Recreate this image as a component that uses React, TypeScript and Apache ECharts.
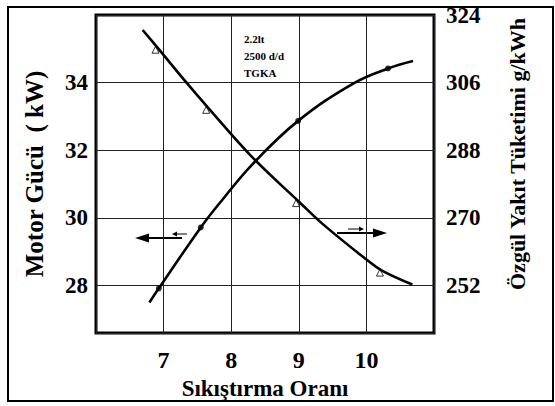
import React, { useEffect, useRef } from "react";
import * as echarts from "echarts";

// Tick labels
const xTickLabels = [7, 8, 9, 10];
const powerTickLabels = [28, 30, 32, 34];
const bsfcTickLabels = [252, 270, 288, 306, 324];

// Motor power (kW) curve, left axis
const powerCurveX = [6.79, 6.93, 7.55, 7.87, 8.31, 8.99, 9.81, 10.32, 10.69];
const powerCurveY = [27.5, 27.92, 29.72, 30.54, 31.58, 32.87, 33.98, 34.42, 34.64];
const powerMarkX = [6.93, 7.55, 8.99, 10.32];
const powerMarkY = [27.92, 29.72, 32.87, 34.42];

// Specific fuel consumption (g/kWh) curve, right axis
const bsfcCurveX = [6.69, 6.91, 7.32, 7.66, 8.31, 9.01, 9.36, 10.01, 10.23, 10.68];
const bsfcCurveY = [320.0, 315.3, 306.4, 299.3, 286.2, 274.2, 268.3, 258.8, 256.0, 252.3];
const bsfcMarkX = [6.91, 7.66, 8.99, 10.23];
const bsfcMarkY = [315.3, 299.3, 274.5, 256.0];

const noteLines = ["2.2lt", "2500 d/d", "TGKA"];

const FONT = "'Liberation Serif', 'Times New Roman', serif";

export default function App() {
  const ref = useRef<HTMLDivElement>(null);
  useEffect(() => {
    if (!ref.current) return;
    const chart = echarts.init(ref.current, undefined, { renderer: "svg" });
    const zip = (xs: number[], ys: number[]) => xs.map((x, i) => [x, ys[i]]);
    const labelStyle = {
      color: "#000",
      fontFamily: FONT,
      fontWeight: "bold" as const,
      fontSize: 23,
    };
    chart.setOption({
      animation: false,
      backgroundColor: "#fff",
      grid: {
        left: 96,
        right: 121,
        top: 15,
        bottom: 73,
        show: true,
        borderColor: "#000",
        borderWidth: 3,
        backgroundColor: "transparent",
      },
      xAxis: {
        type: "value",
        min: 6,
        max: 11,
        interval: 1,
        name: "Sıkıştırma Oranı",
        nameLocation: "middle",
        nameGap: 40,
        nameTextStyle: { ...labelStyle, fontSize: 23 },
        axisLine: { show: false },
        axisTick: { show: false },
        axisLabel: {
          ...labelStyle,
          fontSize: 24,
          margin: 15,
          showMinLabel: false,
          showMaxLabel: false,
          formatter: (v: number) => (xTickLabels.includes(v) ? String(v) : ""),
        },
        splitLine: { show: true, lineStyle: { color: "#222", width: 1 } },
      },
      yAxis: [
        {
          type: "value",
          min: 26.6,
          max: 36,
          position: "left",
          name: "Motor Gücü  ( kW)",
          nameLocation: "middle",
          nameGap: 49,
          nameRotate: 90,
          nameTextStyle: { ...labelStyle, fontSize: 25 },
          axisLine: { show: false },
          axisTick: { show: false },
          axisLabel: {
            ...labelStyle,
            margin: 8,
            showMinLabel: false,
            showMaxLabel: false,
            formatter: (v: number) => (powerTickLabels.includes(v) ? String(v) : ""),
          },
          splitLine: { show: true, lineStyle: { color: "#222", width: 1 } },
        },
        {
          type: "value",
          min: 239.4,
          max: 324,
          position: "right",
          name: "Özgül Yakıt Tüketimi g/kWh",
          nameLocation: "middle",
          nameGap: 72,
          nameRotate: 90,
          nameTextStyle: { ...labelStyle, fontSize: 22, padding: [0, 0, 0, 40] },
          axisLine: { show: false },
          axisTick: { show: false },
          axisLabel: {
            ...labelStyle,
            margin: 12,
            customValues: bsfcTickLabels,
          },
          splitLine: { show: false },
        },
      ],
      series: [
        {
          type: "line",
          yAxisIndex: 0,
          data: zip(powerCurveX, powerCurveY),
          smooth: 0.4,
          symbol: "none",
          lineStyle: { color: "#000", width: 2.6 },
        },
        {
          type: "scatter",
          yAxisIndex: 0,
          data: zip(powerMarkX, powerMarkY),
          symbol: "circle",
          symbolSize: 6,
          itemStyle: { color: "#000" },
        },
        {
          type: "line",
          yAxisIndex: 1,
          data: zip(bsfcCurveX, bsfcCurveY),
          smooth: 0.4,
          symbol: "none",
          lineStyle: { color: "#000", width: 2.6 },
        },
        {
          type: "scatter",
          yAxisIndex: 1,
          data: zip(bsfcMarkX, bsfcMarkY),
          symbol: "triangle",
          symbolSize: 7,
          symbolOffset: [-2, 2],
          itemStyle: { color: "#fff", borderColor: "#000", borderWidth: 1 },
        },
      ],
      graphic: [
        {
          type: "rect",
          shape: { x: 8, y: 7, width: 545, height: 394 },
          style: { fill: "none", stroke: "#000", lineWidth: 2 },
          silent: true,
        },
        {
          type: "text",
          x: 244,
          y: 30,
          style: {
            text: noteLines.join("\n"),
            fill: "#000",
            font: `bold 11px ${FONT}`,
            lineHeight: 17,
          },
        },
        // left arrow (power -> left axis)
        { type: "line", shape: { x1: 182, y1: 238, x2: 146, y2: 238 }, style: { stroke: "#000", lineWidth: 2 } },
        { type: "polygon", shape: { points: [[135, 238], [149, 233.5], [149, 242.5]] }, style: { fill: "#000" } },
        { type: "line", shape: { x1: 175, y1: 234, x2: 187, y2: 234 }, style: { stroke: "#000", lineWidth: 1 } },
        { type: "polygon", shape: { points: [[172, 234], [177, 231.5], [177, 236.5]] }, style: { fill: "#000" } },
        // right arrow (bsfc -> right axis)
        { type: "line", shape: { x1: 337, y1: 233, x2: 375, y2: 233 }, style: { stroke: "#000", lineWidth: 2 } },
        { type: "polygon", shape: { points: [[387, 233], [373, 228.5], [373, 237.5]] }, style: { fill: "#000" } },
        { type: "line", shape: { x1: 348, y1: 229, x2: 360, y2: 229 }, style: { stroke: "#000", lineWidth: 1 } },
        { type: "polygon", shape: { points: [[364, 229], [359, 226.5], [359, 231.5]] }, style: { fill: "#000" } },
      ],
    });
    return () => chart.dispose();
  }, []);
  return <div ref={ref} style={{ width: 555, height: 406, position: "absolute", left: 0, top: 0 }} />;
}
